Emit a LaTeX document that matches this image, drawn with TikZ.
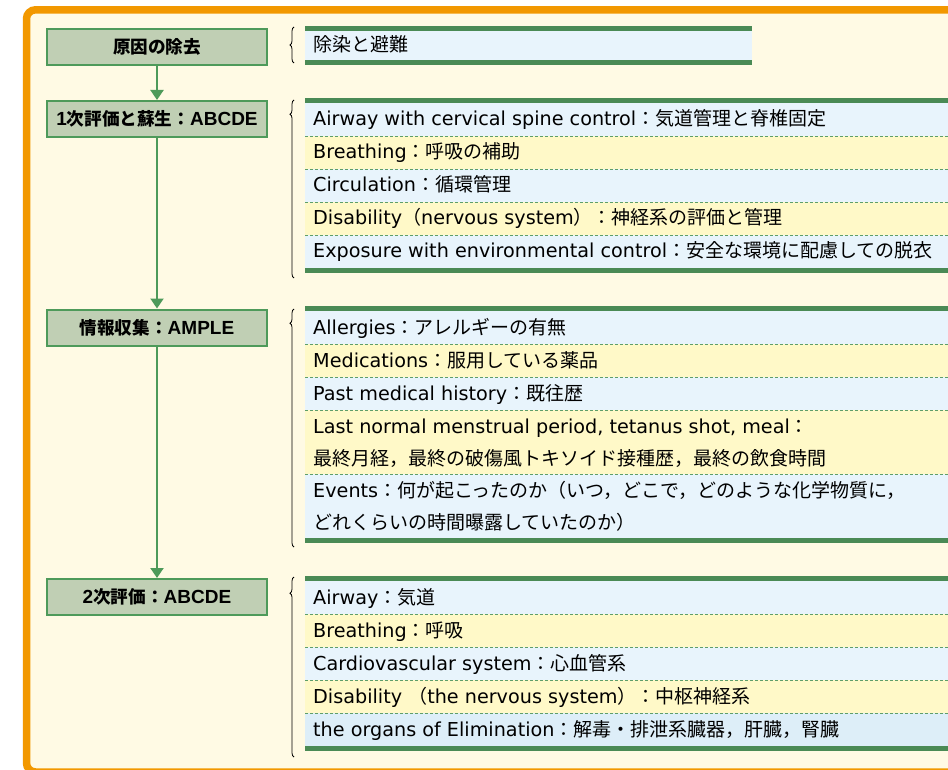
\documentclass[tikz,border=0pt]{standalone}
\usepackage{fontspec}
\setmainfont{DejaVu Sans}
\newfontfamily\jp{Noto Sans CJK JP}
\newfontfamily\boxlat[Scale=1.08]{Liberation Sans}
\usetikzlibrary{arrows.meta,decorations.pathreplacing}

\definecolor{frameorange}{HTML}{F29800}
\definecolor{cream}{HTML}{FFFAE4}
\definecolor{boxfill}{HTML}{C0CFB4}
\definecolor{boxline}{HTML}{4E9A5A}
\definecolor{barg}{HTML}{4A8A55}
\definecolor{rowb}{HTML}{E8F4FC}
\definecolor{rowy}{HTML}{FFF9C8}
\definecolor{rowbb}{HTML}{DDEEF8}
\definecolor{dashg}{HTML}{5E9E6A}

\newcommand\jt[1]{{\fontsize{19}{23}\selectfont\jp #1}}
\newcommand\bjt[1]{{\jp #1}}
\newcommand\bl[1]{{\boxlat #1}}

\begin{document}
\begin{tikzpicture}[x=1pt,y=-1pt,
  stepbox/.style={draw=boxline, line width=2pt, fill=boxfill, minimum width=220pt,
    minimum height=36pt, inner sep=0pt, font=\fontsize{17.6}{20}\selectfont\bfseries,
    text height=13pt, text depth=0pt},
  rowtext/.style={anchor=base west, inner sep=0pt, font=\fontsize{19.2}{23}\selectfont},
  arrowline/.style={draw=boxline, line width=2pt, -{Triangle[width=13pt,length=10pt]}},
  bracestyle/.style={draw=black, line width=0.8pt, decorate},
  dashsep/.style={draw=dashg, line width=0.8pt, dash pattern=on 3pt off 2pt},
  greenbar/.style={fill=barg}
]
\path[use as bounding box] (0,0) rectangle (948,770);
\begin{scope}
\clip (0,0) rectangle (948,770);
\fill[white] (0,0) rectangle (948,770);
% frame
\draw[frameorange, line width=7.5pt, rounded corners=9pt, fill=cream] (26.5,9.8) rectangle (990,772);

% left boxes
\node[stepbox] (b1) at (157,47) {\bjt{原因の除去}};
\node[stepbox] (b2) at (157,119) {\bl{1}\bjt{次評価と蘇生：}\bl{ABCDE}};
\node[stepbox] (b3) at (157,327.5) {\bjt{情報収集：}\bl{AMPLE}};
\node[stepbox] (b4) at (157,597) {\bl{2}\bjt{次評価：}\bl{ABCDE}};
\draw[arrowline] (b1.south) -- (b2.north);
\draw[arrowline] (b2.south) -- (b3.north);
\draw[arrowline] (b3.south) -- (b4.north);

% list 1
\fill[rowb] (305,31) rectangle (752,60);
\fill[greenbar] (305,26) rectangle (752,31);
\fill[greenbar] (305,60) rectangle (752,65);
\node[rowtext] (t11) at (313,52) {\jt{除染と避難}};
\draw[bracestyle, decoration={brace, amplitude=4pt, aspect=0.5}] (294,63) -- (294,27);

% list 2
\fill[rowb] (305,103) rectangle (960,136);
\fill[rowy] (305,136) rectangle (960,169);
\fill[rowb] (305,169) rectangle (960,202);
\fill[rowy] (305,202) rectangle (960,235);
\fill[rowb] (305,235) rectangle (960,268);
\foreach \yy in {136,169,202,235} \draw[dashsep] (305,\yy) -- (960,\yy);
\fill[greenbar] (305,98) rectangle (960,103);
\fill[greenbar] (305,268) rectangle (960,273);
\node[rowtext] (t21) at (313,126) {Airway with cervical spine control\jt{：気道管理と脊椎固定}};
\node[rowtext] (t22) at (313,159) {Breathing\jt{：呼吸の補助}};
\node[rowtext] (t23) at (313,192) {Circulation\jt{：循環管理}};
\node[rowtext] (t24) at (313,225) {Disability\jt{（}nervous system\jt{）：神経系の評価と管理}};
\node[rowtext] (t25) at (313,258) {Exposure with environmental control\jt{：安全な環境に配慮しての脱衣}};
\draw[bracestyle, decoration={brace, amplitude=4pt, aspect=0.92}] (294,278) -- (294,100);

% list 3
\fill[rowb] (305,311) rectangle (960,344);
\fill[rowy] (305,344) rectangle (960,377);
\fill[rowb] (305,377) rectangle (960,410);
\fill[rowy] (305,410) rectangle (960,474);
\fill[rowb] (305,474) rectangle (960,538);
\foreach \yy in {344,377,410,474} \draw[dashsep] (305,\yy) -- (960,\yy);
\fill[greenbar] (305,306) rectangle (960,311);
\fill[greenbar] (305,538) rectangle (960,543);
\node[rowtext] (t31) at (313,334) {Allergies\jt{：アレルギーの有無}};
\node[rowtext] (t32) at (313,367) {Medications\jt{：服用している薬品}};
\node[rowtext] (t33) at (313,400) {Past medical history\jt{：既往歴}};
\node[rowtext] (t34a) at (313,433) {Last normal menstrual period, tetanus shot, meal\jt{：}};
\node[rowtext] (t34b) at (313,465) {\jt{最終月経，最終の破傷風トキソイド接種歴，最終の飲食時間}};
\node[rowtext] (t35a) at (313,497) {Events\jt{：何が起こったのか（いつ，どこで，どのような化学物質に，}};
\node[rowtext] (t35b) at (313,529) {\jt{どれくらいの時間曝露していたのか）}};
\draw[bracestyle, decoration={brace, amplitude=4pt, aspect=0.94}] (294,547) -- (294,309);

% list 4
\fill[rowb] (305,581) rectangle (960,614);
\fill[rowy] (305,614) rectangle (960,647);
\fill[rowb] (305,647) rectangle (960,680);
\fill[rowy] (305,680) rectangle (960,713);
\fill[rowbb] (305,713) rectangle (960,746);
\foreach \yy in {614,647,680,713} \draw[dashsep] (305,\yy) -- (960,\yy);
\fill[greenbar] (305,576) rectangle (960,581);
\fill[greenbar] (305,746) rectangle (960,751);
\node[rowtext] (t41) at (313,604) {Airway\jt{：気道}};
\node[rowtext] (t42) at (313,637) {Breathing\jt{：呼吸}};
\node[rowtext] (t43) at (313,670) {Cardiovascular system\jt{：心血管系}};
\node[rowtext] (t44) at (313,703) {Disability \jt{（}the nervous system\jt{）：中枢神経系}};
\node[rowtext] (t45) at (313,736) {the organs of Elimination\jt{：解毒・排泄系臓器，肝臓，腎臓}};
\draw[bracestyle, decoration={brace, amplitude=4pt, aspect=0.91}] (294,757) -- (294,577);
\end{scope}
\end{tikzpicture}
\end{document}
